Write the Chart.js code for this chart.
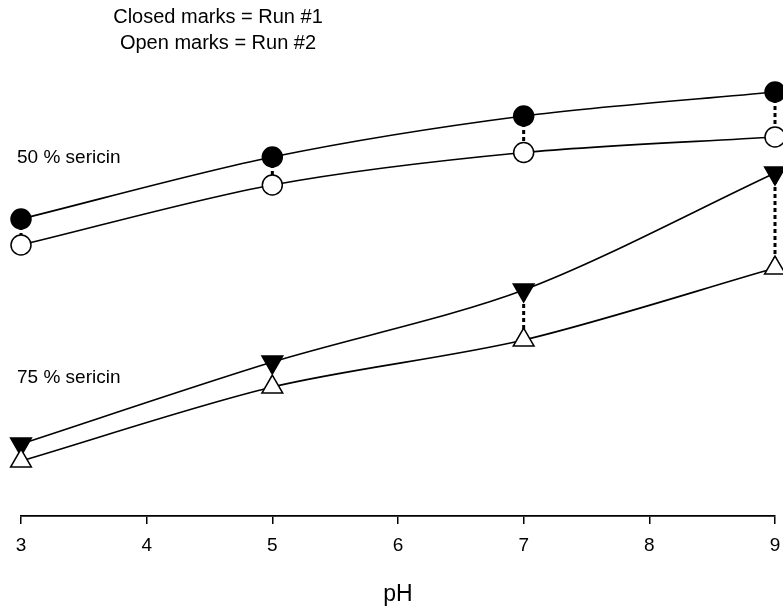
<!DOCTYPE html>
<html>
<head>
<meta charset="utf-8">
<script src="https://cdn.jsdelivr.net/npm/chart.js@4/dist/chart.umd.min.js"></script>
<style>
  html, body { margin: 0; padding: 0; background: #fff; }
  #wrap { width: 783px; height: 608px; position: relative; }
</style>
</head>
<body>
<div id="wrap"><canvas id="c" width="783" height="608"></canvas></div>
<script>
// ---- data (y in arbitrary units, axis not shown) ----
const phValues = [3, 5, 7, 9];
const xTickLabels = ['3', '4', '5', '6', '7', '8', '9'];
const sericin50Run1 = [59.4, 71.8, 80.0, 84.8];   // closed circles
const sericin50Run2 = [54.2, 66.2, 72.7, 75.8];   // open circles
const sericin75Run1 = [14.4, 30.8, 45.2, 68.6];   // closed down-triangles
const sericin75Run2 = [11.0, 25.8, 35.2, 49.6];   // open up-triangles
const titleLines = ['Closed marks = Run #1', 'Open marks = Run #2'];
const groupLabels = ['50 % sericin', '75 % sericin'];
const xAxisTitle = 'pH';

const FONT = 'Arial, "Liberation Sans", sans-serif';

function pts(arr) { return phValues.map((x, i) => ({ x: x, y: arr[i] })); }

function seriesDataset(arr, style, filled, rotation) {
  return {
    data: pts(arr),
    borderColor: '#000',
    borderWidth: 1.6,
    tension: 0.3,
    pointStyle: style,
    pointRotation: rotation || 0,
    pointRadius: style === 'circle' ? 10 : 12,
    pointBackgroundColor: filled ? '#000' : '#fff',
    pointBorderColor: '#000',
    pointBorderWidth: 1.5,
    clip: false,
    order: 0
  };
}

function dashedLinks(closed, open) {
  return phValues.map((x, i) => ({
    data: [{ x: x, y: closed[i] }, { x: x, y: open[i] }],
    borderColor: '#000',
    borderWidth: 3,
    borderDash: [4, 3],
    pointRadius: 0,
    tension: 0,
    clip: false,
    order: 10
  }));
}

const datasets = [
  ...dashedLinks(sericin50Run1, sericin50Run2),
  ...dashedLinks(sericin75Run1, sericin75Run2),
  seriesDataset(sericin50Run2, 'circle', false),
  seriesDataset(sericin50Run1, 'circle', true),
  seriesDataset(sericin75Run2, 'triangle', false),
  seriesDataset(sericin75Run1, 'triangle', true, 180)
];

const textPlugin = {
  id: 'texts',
  afterDraw(chart) {
    const ctx = chart.ctx;
    ctx.save();
    ctx.fillStyle = '#000';
    ctx.font = '20px ' + FONT;
    ctx.textAlign = 'center';
    ctx.textBaseline = 'middle';
    ctx.fillText(titleLines[0], 218, 17);
    ctx.fillText(titleLines[1], 218, 43);
    ctx.textAlign = 'left';
    ctx.font = '19px ' + FONT;
    ctx.fillText(groupLabels[0], 17, 158);
    ctx.fillText(groupLabels[1], 17, 378);
    ctx.restore();
  }
};

new Chart(document.getElementById('c'), {
  type: 'line',
  data: { datasets: datasets },
  options: {
    responsive: false,
    animation: false,
    events: [],
    layout: { autoPadding: false, padding: { left: 21, right: 8, top: 16, bottom: 0 } },
    plugins: { legend: { display: false }, tooltip: { enabled: false } },
    scales: {
      x: {
        type: 'linear',
        min: 3, max: 9,
        afterFit(scale) { scale.height = 92; scale.paddingRight = 0; scale.paddingLeft = 0; },
        border: { display: true, color: '#000', width: 1.8 },
        grid: { drawOnChartArea: false, drawTicks: true, tickLength: 8, color: '#000', lineWidth: 1.5 },
        ticks: {
          stepSize: 1,
          padding: 10,
          color: '#000',
          font: { family: FONT, size: 19 },
          maxRotation: 0,
          callback: (v) => xTickLabels[Math.round(v) - 3]
        },
        title: {
          display: true,
          text: xAxisTitle,
          color: '#000',
          font: { family: FONT, size: 23 },
          padding: { top: 0, bottom: 0 }
        }
      },
      y: {
        type: 'linear',
        min: 0, max: 100,
        display: false
      }
    }
  },
  plugins: [textPlugin]
});
</script>
</body>
</html>
